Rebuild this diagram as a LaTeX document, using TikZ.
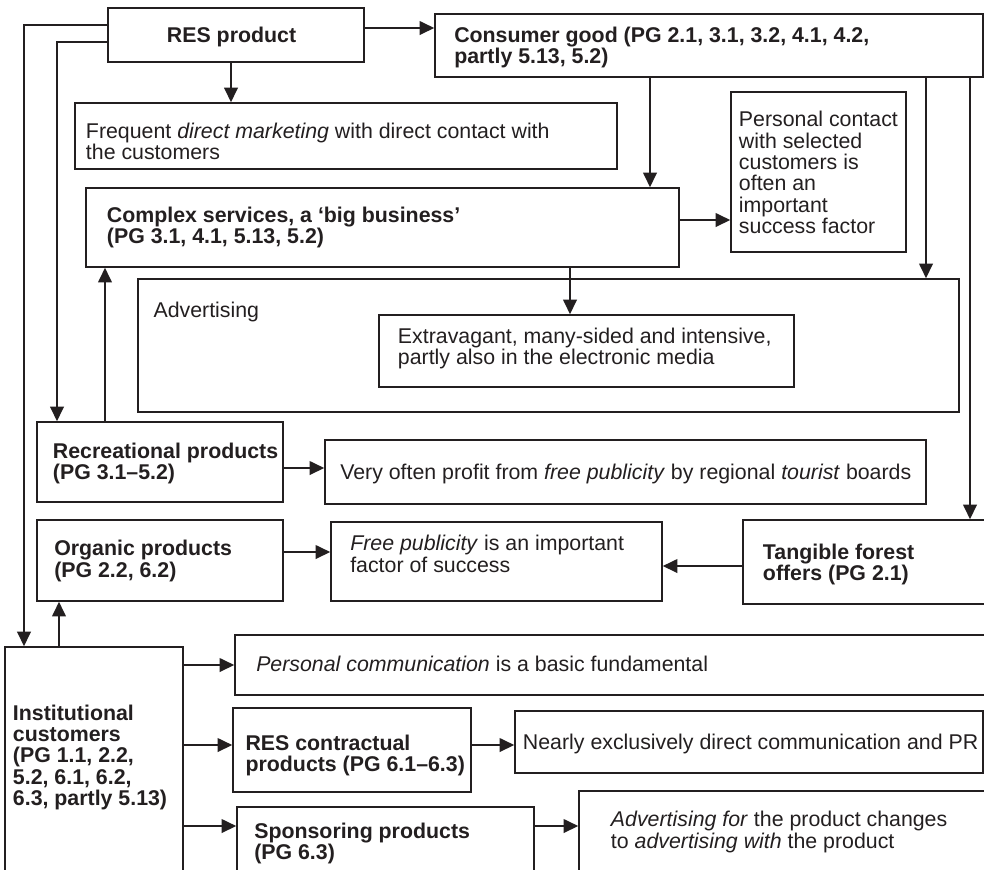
\documentclass[tikz,border=0pt]{standalone}
\usepackage{fontspec}
\setmainfont{Liberation Sans}
\usetikzlibrary{arrows.meta,fit}
\definecolor{ink}{RGB}{35,31,32}
\begin{document}
\begin{tikzpicture}[x=0.75pt,y=-0.75pt,
  box/.style={draw=ink, line width=1pt, inner sep=0pt},
  txt/.style={anchor=north west, inner sep=0pt, align=left, text=ink,
    font=\fontsize{16}{16}\selectfont},
  hd/.style={txt, font=\fontsize{16}{16}\selectfont\bfseries},
  arr/.style={draw=ink, line width=1.9pt, -{Triangle[length=11pt,width=10pt]}}]

\useasboundingbox (0,0) rectangle (984,869);
\fill[white] (0,0) rectangle (984,869);
\clip (0,0) rectangle (984,869);

% boxes
\node[box, fit={(108,8) (364,62)}] (res) {};
\node[box, fit={(435,14) (983,77)}] (cons) {};
\node[box, fit={(75,103) (617,169)}] (freq) {};
\node[box, fit={(731,92) (906,252)}] (pers) {};
\node[box, fit={(86,188) (679,267)}] (comp) {};
\node[box, fit={(138,279) (959,412)}] (adv) {};
\node[box, fit={(379,315) (794,387)}] (extr) {};
\node[box, fit={(37,422) (283,502)}] (recr) {};
\node[box, fit={(325,440) (926,504)}] (often) {};
\node[box, fit={(37,520) (283,601)}] (org) {};
\node[box, fit={(331,522) (662,601)}] (free) {};
\node[box, fit={(743,520) (992,604)}] (tang) {};
\node[box, fit={(5,647) (183,890)}] (inst) {};
\node[box, fit={(235,635) (992,695)}] (pcom) {};
\node[box, fit={(233,708) (471,792)}] (resc) {};
\node[box, fit={(515,711) (983,773)}] (near) {};
\node[box, fit={(237,807) (534,890)}] (spon) {};
\node[box, fit={(579,791) (992,890)}] (advf) {};

% texts
\node[hd] (res-t) at (166.7,26.7) {RES product};
\node[hd] (cons-t) at (454,26.7) {Consumer good (PG 2.1, 3.1, 3.2, 4.1, 4.2,\\partly 5.13, 5.2)};
\node[txt] (freq-t) at (85.7,122.7) {Frequent \textit{direct marketing} with direct contact with\\the customers};
\node[hd] (comp-t) at (106.7,206.7) {Complex services, a ‘big business’\\(PG 3.1, 4.1, 5.13, 5.2)};
\node[txt] (pers-t) at (738.7,111) {Personal contact\\with selected\\customers is\\often an\\important\\success factor};
\node[txt] (adv-t) at (153.3,301.7) {Advertising};
\node[txt] (extr-t) at (397.7,327.3) {Extravagant, many-sided and intensive,\\partly also in the electronic media};
\node[hd] (recr-t) at (52.7,442.3) {Recreational products\\(PG 3.1–5.2)};
\node[txt] (often-t) at (340,464) {Very often profit from \textit{free publicity} by regional \textit{tourist} boards};
\node[hd] (org-t) at (54,540) {Organic products\\(PG 2.2, 6.2)};
\node[txt] (free-t) at (350,535) {\textit{Free publicity} is an important\\factor of success};
\node[hd] (tang-t) at (762.7,543.3) {Tangible forest\\offers (PG 2.1)};
\node[hd] (inst-t) at (12.7,704.3) {Institutional\\customers\\(PG 1.1, 2.2,\\5.2, 6.1, 6.2,\\6.3, partly 5.13)};
\node[txt] (pcom-t) at (256,655.7) {\textit{Personal communication} is a basic fundamental};
\node[hd] (resc-t) at (245.3,734.3) {RES contractual\\products (PG 6.1–6.3)};
\node[txt] (near-t) at (522.7,733.3) {Nearly exclusively direct communication and PR};
\node[hd] (spon-t) at (254,822.3) {Sponsoring products\\(PG 6.3)};
\node[txt] (advf-t) at (610.7,811) {\textit{Advertising for} the product changes\\to \textit{advertising with} the product};

% connectors
\draw[arr] (res.east |- 0,28) -- (cons.west |- 0,28);
\draw[arr] (res.south -| 231,0) -- (freq.north -| 231,0);
\draw[arr] (res.west |- 0,25) -| (inst.north -| 24,0);
\draw[arr] (res.west |- 0,42) -| (recr.north -| 57,0);
\draw[arr] (recr.north -| 105,0) -- (comp.south -| 105,0);
\draw[arr] (inst.north -| 59,0) -- (org.south -| 59,0);
\draw[arr] (cons.south -| 650,0) -- (comp.north -| 650,0);
\draw[arr] (comp.east |- 0,220) -- (pers.west |- 0,220);
\draw[arr] (cons.south -| 926,0) -- (adv.north -| 926,0);
\draw[arr] (cons.south -| 970,0) -- (tang.north -| 970,0);
\draw[arr] (comp.south -| 570,0) -- (extr.north -| 570,0);
\draw[arr] (recr.east |- 0,468) -- (often.west |- 0,468);
\draw[arr] (org.east |- 0,552) -- (free.west |- 0,552);
\draw[arr] (tang.west |- 0,566) -- (free.east |- 0,566);
\draw[arr] (inst.east |- 0,665) -- (pcom.west |- 0,665);
\draw[arr] (inst.east |- 0,745) -- (resc.west |- 0,745);
\draw[arr] (inst.east |- 0,826) -- (spon.west |- 0,826);
\draw[arr] (resc.east |- 0,745) -- (near.west |- 0,745);
\draw[arr] (spon.east |- 0,826) -- (advf.west |- 0,826);
\end{tikzpicture}
\end{document}
